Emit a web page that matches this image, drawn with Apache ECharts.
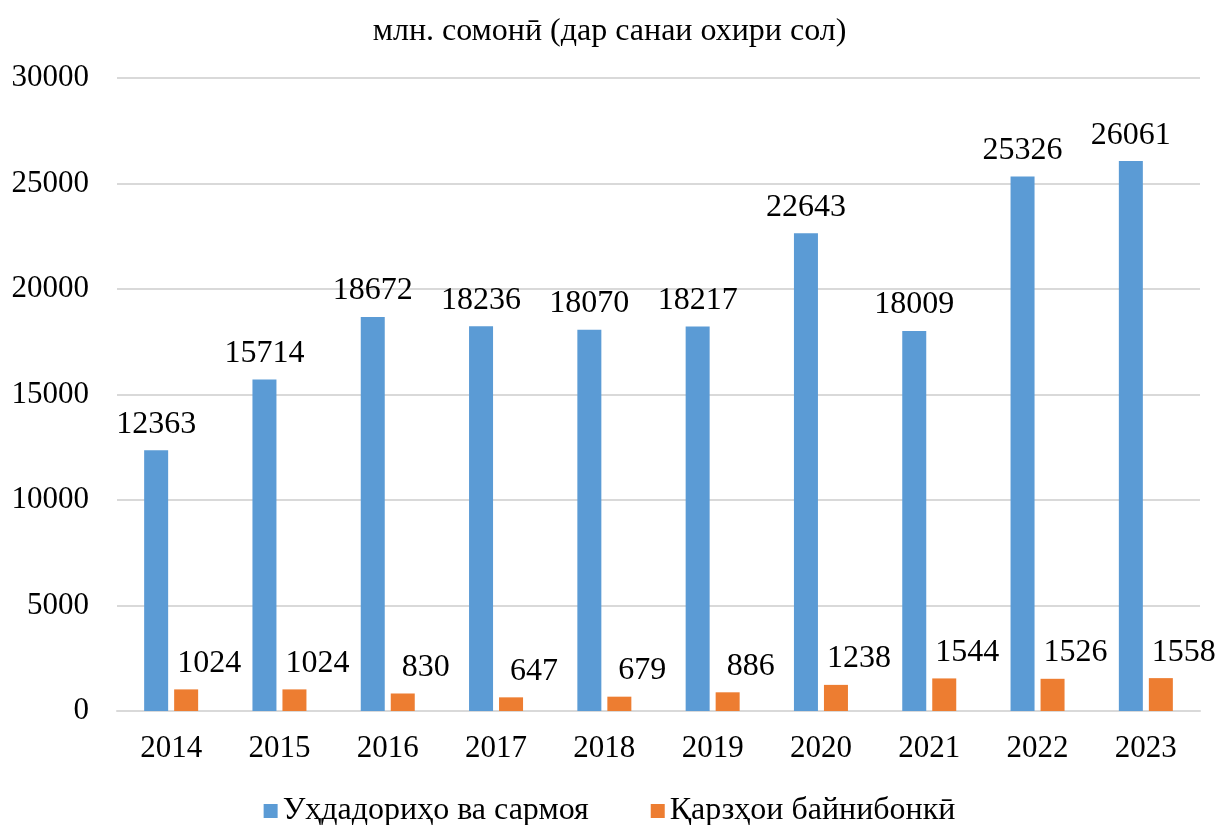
<!DOCTYPE html>
<html>
<head>
<meta charset="utf-8">
<script src="https://cdn.jsdelivr.net/npm/echarts@6/dist/echarts.min.js"></script>
<style>
  html, body { margin: 0; padding: 0; background: #fff; }
  #chart { width: 1219px; height: 825px; }
</style>
</head>
<body>
<div id="chart"></div>
<script>
  // годҳо
  const years = ["2014", "2015", "2016", "2017", "2018", "2019", "2020", "2021", "2022", "2023"];
  const liabilities = [12363, 15714, 18672, 18236, 18070, 18217, 22643, 18009, 25326, 26061];
  const interbank = [1024, 1024, 830, 647, 679, 886, 1238, 1544, 1526, 1558];
  const seriesNames = ["Уҳдадориҳо ва сармоя", "Қарзҳои байнибонкӣ"];
  const titleText = "млн. сомонӣ (дар санаи охири сол)";

  const font = "'Liberation Serif', 'Times New Roman', serif";
  const chart = echarts.init(document.getElementById("chart"));

  const option = {
    animation: false,
    textStyle: { fontFamily: font },
    title: {
      text: titleText,
      left: "center",
      top: 11,
      textStyle: { fontFamily: font, fontSize: 32, fontWeight: "normal", color: "#000" },
    },
    legend: {
      top: 790,
      left: "center",
      itemWidth: 14,
      itemHeight: 14,
      itemGap: 62,
      icon: "rect",
      textStyle: { fontFamily: font, fontSize: 32, color: "#000" },
      data: seriesNames,
    },
    grid: { left: 117, right: 19, top: 78, bottom: 114 },
    xAxis: {
      type: "category",
      data: years,
      axisLine: { lineStyle: { color: "#d9d9d9", width: 2 } },
      axisTick: { show: false },
      axisLabel: { fontFamily: font, fontSize: 31, color: "#000", margin: 22 },
    },
    yAxis: {
      type: "value",
      min: 0,
      max: 30000,
      interval: 5000,
      axisLine: { show: false },
      axisTick: { show: false },
      axisLabel: {
        fontFamily: font,
        fontSize: 31,
        color: "#000",
        margin: 28,
        formatter: (v) => String(v),
      },
      splitLine: { lineStyle: { color: "#d9d9d9", width: 2 } },
    },
    series: [
      {
        name: seriesNames[0],
        type: "bar",
        data: liabilities,
        barWidth: 24,
        barGap: "25%",
        itemStyle: { color: "#5b9bd5" },
        label: {
          show: true,
          position: "top",
          distance: 10,
          fontFamily: font,
          fontSize: 32,
          color: "#000",
        },
      },
      {
        name: seriesNames[1],
        type: "bar",
        data: interbank,
        barWidth: 24,
        itemStyle: { color: "#ed7d31" },
        label: {
          show: true,
          position: "top",
          distance: 10,
          offset: [23, 0],
          fontFamily: font,
          fontSize: 32,
          color: "#000",
        },
      },
    ],
  };

  chart.setOption(option);
</script>
</body>
</html>
